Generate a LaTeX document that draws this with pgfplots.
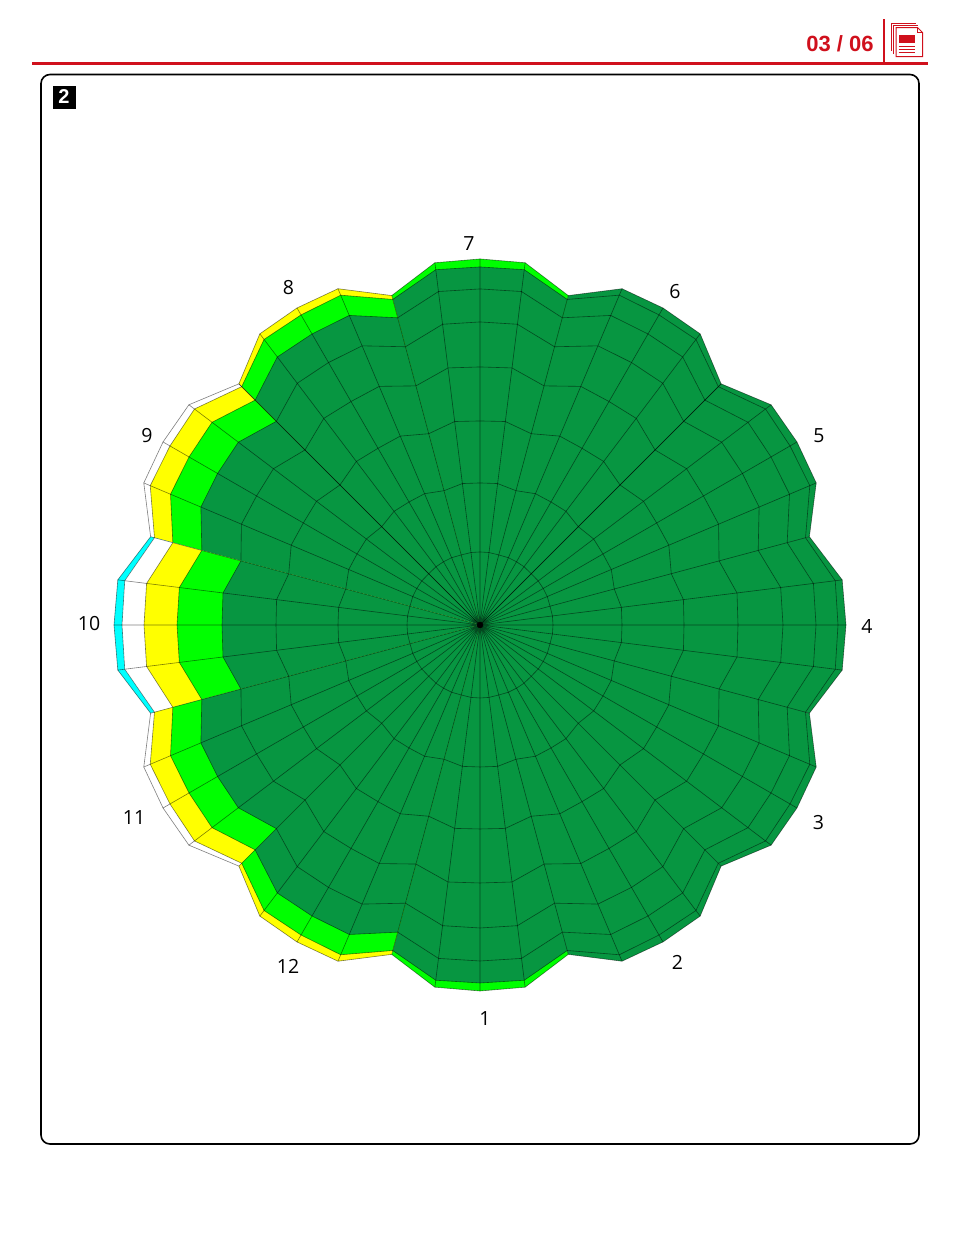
\documentclass[border=0pt]{standalone}
\usepackage{fontspec}
\setmainfont{Liberation Sans}
\newfontfamily\lab{Open Sans}
\usepackage{pgfplots}
\usepackage{pgfplotstable}
\pgfplotsset{compat=1.18}
\definecolor{hdrred}{HTML}{D0101C}
\definecolor{dkg}{HTML}{079641}
\definecolor{brg}{HTML}{00FF00}
\definecolor{yel}{HTML}{FFFF00}
\definecolor{cya}{HTML}{00FFFF}

% radial profile of each month, offset from the month's centre, ring radii
\pgfplotstableread{
a r1 r2 r3 r4 r5 r6 r7 r8
-15 0 0 0 0 0 0 0 0
-15 72.5 139 198 247.5 288 318 337 341
-7.1 73 142.5 205 259 303 336 358 365
0 73 142 204 258 303 336 358 366
7.1 73 142.5 205 259 303 336 358 365
15 72.5 139 198 247.5 288 318 337 341
15 0 0 0 0 0 0 0 0
}\fan
\pgfplotstableread{
a r1 r2 r3 r4 r5 r6 r7 r8
-15 72.5 139 198 247.5 288 318 337 341
-7.1 73 142.5 205 259 303 336 358 365
0 73 142 204 258 303 336 358 366
7.1 73 142.5 205 259 303 336 358 365
15 72.5 139 198 247.5 288 318 337 341
}\arcs
\pgfplotstableread{
a r
-15 341
-15 0
-7.1 365
-7.1 0
0 366
0 0
7.1 365
7.1 0
}\spokes

\pgfplotsset{
  wedge/.style={draw=none,no markers,data cs=polar,forget plot},
  gridl/.style={draw=black,draw opacity=.5,line width=.6pt,no markers,data cs=polar,forget plot,line join=round},
}
\newcommand\monthfan[5]{% centre angle, colours of rings 8,7,6,5
  \addplot[wedge,fill=#2] table[x expr=\thisrow{a}+#1,y=r8]{\fan} -- cycle;
  \addplot[wedge,fill=#3] table[x expr=\thisrow{a}+#1,y=r7]{\fan} -- cycle;
  \addplot[wedge,fill=#4] table[x expr=\thisrow{a}+#1,y=r6]{\fan} -- cycle;
  \addplot[wedge,fill=#5] table[x expr=\thisrow{a}+#1,y=r5]{\fan} -- cycle;
  \addplot[wedge,fill=dkg] table[x expr=\thisrow{a}+#1,y=r4]{\fan} -- cycle;
}
\newcommand\monthgrid[1]{%
  \addplot[gridl] table[x expr=\thisrow{a}+#1,y=r]{\spokes};
  \addplot[gridl] table[x expr=\thisrow{a}+#1,y=r1]{\arcs};
  \addplot[gridl] table[x expr=\thisrow{a}+#1,y=r2]{\arcs};
  \addplot[gridl] table[x expr=\thisrow{a}+#1,y=r3]{\arcs};
  \addplot[gridl] table[x expr=\thisrow{a}+#1,y=r4]{\arcs};
  \addplot[gridl] table[x expr=\thisrow{a}+#1,y=r5]{\arcs};
  \addplot[gridl] table[x expr=\thisrow{a}+#1,y=r6]{\arcs};
  \addplot[gridl] table[x expr=\thisrow{a}+#1,y=r7]{\arcs};
  \addplot[gridl] table[x expr=\thisrow{a}+#1,y=r8]{\arcs};
}
\begin{document}
\begin{tikzpicture}[x=1pt,y=-1pt]
\useasboundingbox (0,0) rectangle (960,1250);
\fill[white] (0,0) rectangle (960,1250);
% header
\draw[hdrred,line width=2.4pt] (32,63.5) -- (928,63.5);
\draw[hdrred,line width=2pt] (883.5,19) -- (883.5,63);
\node[text=hdrred,font=\fontsize{22}{24}\selectfont\bfseries,inner sep=0pt] at (840,43.5) {03 / 06};
% page icon
\begin{scope}[hdrred,line width=1pt]
\draw (891,51) -- (891,23.5) -- (916,23.5);
\draw (893.5,54) -- (893.5,25.5) -- (918,25.5);
\draw[fill=white] (896,27.5) -- (917.5,27.5) -- (922.5,32.5) -- (922.5,56.5) -- (896,56.5) -- cycle;
\draw (917.5,27.5) -- (917.5,32.5) -- (922.5,32.5);
\fill (898.7,35.3) rectangle (915.3,42.7);
\draw[line width=1.1pt] (898.7,46.3) -- (915.3,46.3) (898.7,49.5) -- (915.3,49.5) (898.7,52.7) -- (915.3,52.7);
\end{scope}
% panel
\draw[black,line width=1.6pt,rounded corners=9pt] (41,74.5) rectangle (919,1144);
\fill[black] (52.5,85.5) rectangle (75.5,108.5);
\node[text=white,font=\fontsize{20}{22}\selectfont\bfseries,inner sep=0pt] at (64,97) {2};

\begin{axis}[
  at={(0pt,-1250pt)},anchor=south west,
  width=960pt,height=1250pt,scale only axis,
  xmin=-480,xmax=480,ymin=-625,ymax=625,
  axis lines=none,clip=false,
]
% month centres: 1 at 270, running counter-clockwise
\monthfan{270}{brg}{dkg}{dkg}{dkg}
\monthfan{300}{dkg}{dkg}{dkg}{dkg}
\monthfan{330}{dkg}{dkg}{dkg}{dkg}
\monthfan{0}{dkg}{dkg}{dkg}{dkg}
\monthfan{30}{dkg}{dkg}{dkg}{dkg}
\monthfan{60}{dkg}{dkg}{dkg}{dkg}
\monthfan{90}{brg}{dkg}{dkg}{dkg}
\monthfan{120}{yel}{brg}{dkg}{dkg}
\monthfan{150}{white}{yel}{brg}{dkg}
\monthfan{180}{cya}{white}{yel}{brg}
\monthfan{210}{white}{yel}{brg}{dkg}
\monthfan{240}{yel}{brg}{dkg}{dkg}
\monthgrid{270}\monthgrid{300}\monthgrid{330}\monthgrid{0}
\monthgrid{30}\monthgrid{60}\monthgrid{90}\monthgrid{120}
\monthgrid{150}\monthgrid{180}\monthgrid{210}\monthgrid{240}
% the two darker month boundaries
\addplot[gridl,draw opacity=.65] coordinates {(45,341) (45,0)};
\addplot[gridl,draw opacity=.65] coordinates {(135,341) (135,0)};
% the spokes close up into a dark spot at the centre
\addplot[only marks,mark=*,mark size=3pt,mark options={draw=none,fill=black},forget plot] coordinates {(0,0)};
\end{axis}
% month labels
\begin{scope}[font=\lab\fontsize{19.5}{22}\selectfont]
\node[inner sep=0pt] at (485,1019) {1};
\node[inner sep=0pt] at (677.5,962) {2};
\node[inner sep=0pt] at (818.5,823) {3};
\node[inner sep=0pt] at (867,626) {4};
\node[inner sep=0pt] at (819,436) {5};
\node[inner sep=0pt] at (675,292) {6};
\node[inner sep=0pt] at (469,244) {7};
\node[inner sep=0pt] at (288.5,288) {8};
\node[inner sep=0pt] at (147,436) {9};
\node[inner sep=0pt] at (89,624) {10};
\node[inner sep=0pt] at (134,818) {11};
\node[inner sep=0pt] at (288,966) {12};
\end{scope}
\end{tikzpicture}
\end{document}
